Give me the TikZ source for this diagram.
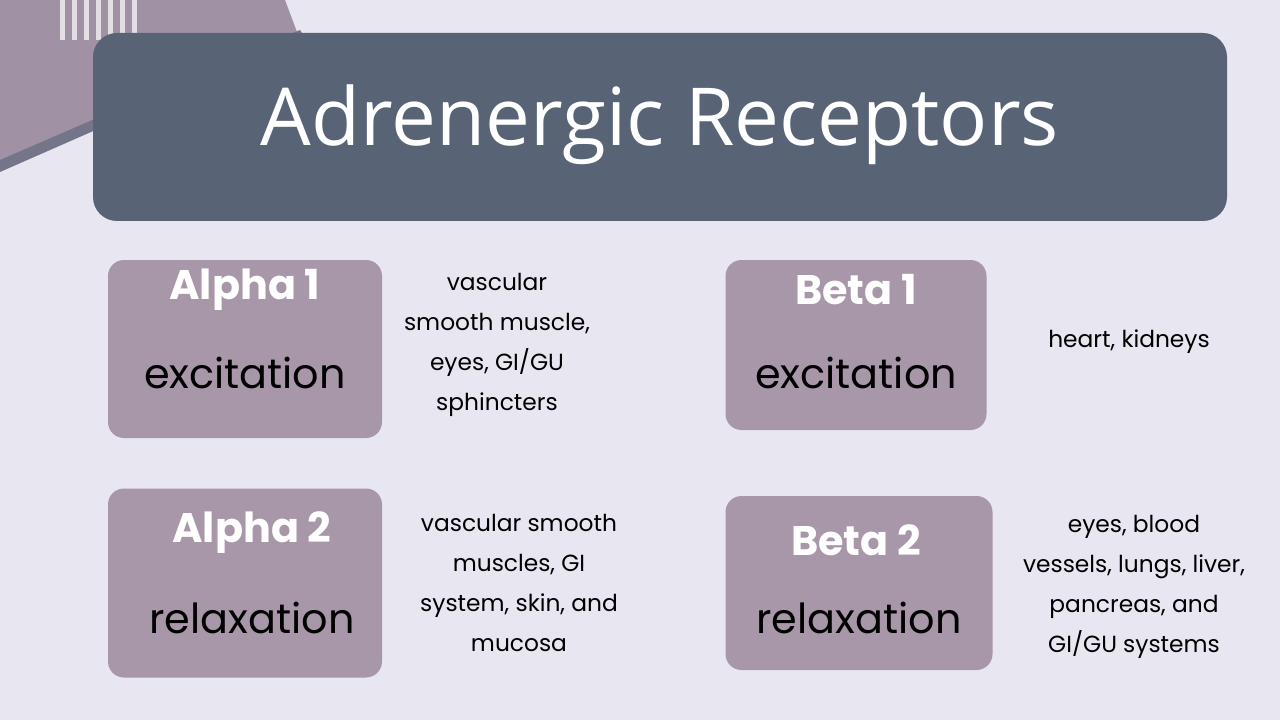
\documentclass[tikz,border=0pt]{standalone}
\usepackage{fontspec}
\setmainfont{Poppins}
\newfontfamily\titlefont{Open Sans}
\begin{document}
\begin{tikzpicture}[x=0.75pt,y=-0.75pt,
  box/.style={fill=boxc,rounded corners=12pt,draw=none},
  hd/.style={text=white,font=\fontsize{31}{36}\selectfont\bfseries},
  sub/.style={text=black,font=\fontsize{31}{36}\selectfont},
  side/.style={align=center,font=\fontsize{17.5}{30}\selectfont}]
\definecolor{bg}{HTML}{E8E6F0}
\definecolor{titlec}{HTML}{586376}
\definecolor{boxc}{HTML}{A897A8}
\definecolor{deco}{HTML}{A091A5}
\fill[bg] (0,0) rectangle (1280,720);
\useasboundingbox (0,0) rectangle (1280,720);
\fill[deco] (0,0) -- (285,0) -- (300,40) -- (0,170) -- cycle;
\fill[titlec!60!deco] (0,160) -- (300,30) -- (305,38) -- (0,172) -- cycle;
\foreach \x in {60,72,84,96,108,120,132}{\fill[white!70!deco] (\x,0) rectangle (\x+5,40);}
\node[box,fill=titlec,minimum width=1134*0.75pt,minimum height=188*0.75pt,rounded corners=18pt] (title) at (660,127) {};
\node[text=white,font=\titlefont\fontsize{60}{70}\selectfont] (tt) at (660,125) {Adrenergic Receptors};
\node[box,minimum width=274*0.75pt,minimum height=178*0.75pt] (a1) at (245,349) {};
\node[hd] (a1h) at (245,290) {Alpha 1};
\node[sub] (a1s) at (245,373) {excitation};
\node[box,minimum width=261*0.75pt,minimum height=170*0.75pt] (b1) at (856,345) {};
\node[hd] (b1h) at (856,290) {Beta 1};
\node[sub] (b1s) at (856,373) {excitation};
\node[box,minimum width=274*0.75pt,minimum height=189*0.75pt] (a2) at (245,583) {};
\node[hd] (a2h) at (252,533) {Alpha 2};
\node[sub] (a2s) at (252,618) {relaxation};
\node[box,minimum width=267*0.75pt,minimum height=174*0.75pt] (b2) at (859,583) {};
\node[hd] (b2h) at (856,540) {Beta 2};
\node[sub] (b2s) at (859,618) {relaxation};
\node[side] (t1) at (497,345) {vascular\\smooth muscle,\\eyes, GI/GU\\sphincters};
\node[side] (t2) at (1129,342) {heart, kidneys};
\node[side] (t3) at (519,583) {vascular smooth\\muscles, GI\\system, skin, and\\mucosa};
\node[side] (t4) at (1134,587) {eyes, blood\\vessels, lungs, liver,\\pancreas, and\\GI/GU systems};
\end{tikzpicture}
\end{document}
